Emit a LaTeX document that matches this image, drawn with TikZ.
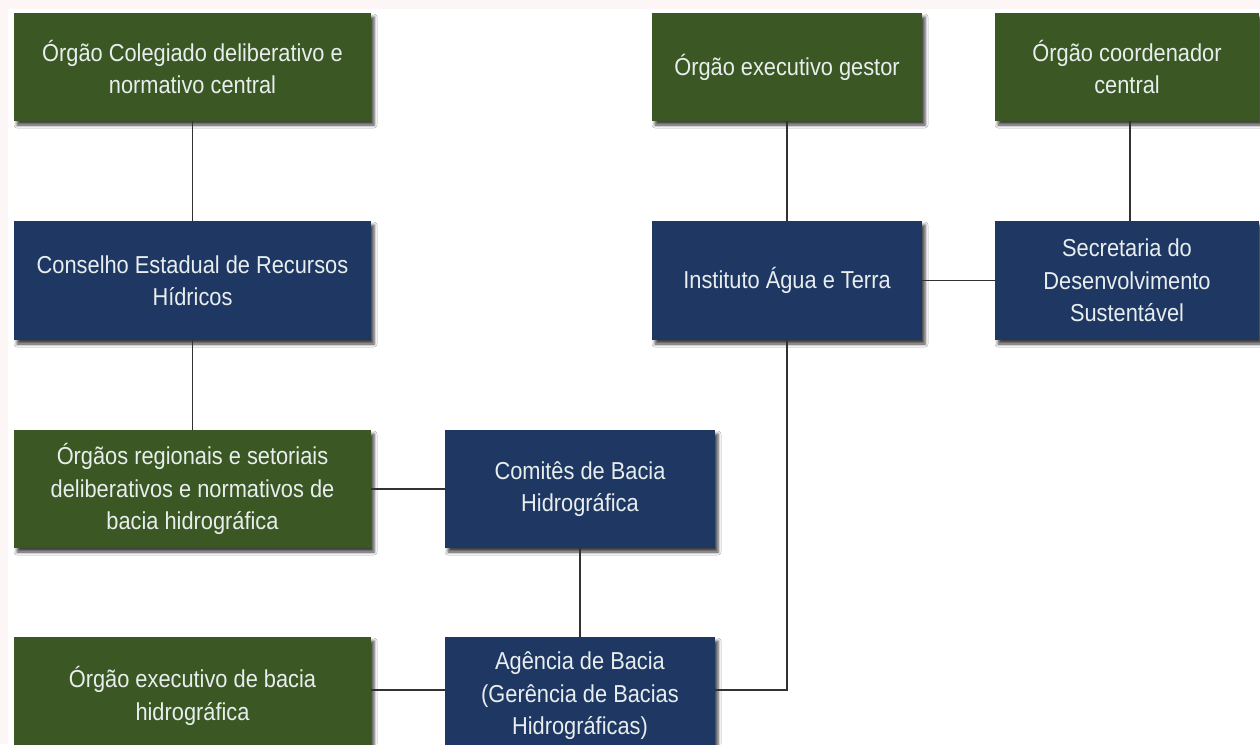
\documentclass[tikz,border=0pt]{standalone}
\usepackage{fontspec}
\newfontfamily\boxfont{Liberation Sans}[FakeStretch=0.89]
\usetikzlibrary{shadows.blur}
\definecolor{boxgreen}{RGB}{59,87,35}
\definecolor{boxblue}{RGB}{31,55,99}
\definecolor{boxtext}{RGB}{232,238,238}
\definecolor{linegray}{RGB}{50,50,50}
\definecolor{edgepink}{RGB}{253,246,246}
\tikzset{
  orgbox/.style={rectangle, inner sep=0pt, align=center, text=boxtext,
    font=\boxfont\fontsize{24.5}{32.5}\selectfont,
    blur shadow={shadow xshift=3pt, shadow yshift=-4pt, shadow blur radius=3pt, shadow opacity=75}},
  greenbox/.style={orgbox, fill=boxgreen},
  bluebox/.style={orgbox, fill=boxblue},
  link/.style={draw=linegray, line width=1.6pt}
}
\begin{document}
\begin{tikzpicture}[x=1pt,y=-1pt]
\useasboundingbox (0,0) rectangle (1260,744);
\clip (0,0) rectangle (1260,744);
\fill[edgepink] (0,0) rectangle (1260,744);
\fill[white] (8,9) rectangle (1260,744);
% nodes
\node[greenbox, minimum width=357pt, minimum height=108pt] (g1) at (192.5,67) {Órgão Colegiado deliberativo e\\normativo central};
\node[bluebox, minimum width=357pt, minimum height=119pt] (b1) at (192.5,280.5) {Conselho Estadual de Recursos\\Hídricos};
\node[greenbox, minimum width=357pt, minimum height=118pt] (g2) at (192.5,489) {Órgãos regionais e setoriais\\deliberativos e normativos de\\bacia hidrográfica};
\node[greenbox, minimum width=357pt, minimum height=118pt] (g3) at (192.5,696) {Órgão executivo de bacia\\hidrográfica};
\node[bluebox, minimum width=270pt, minimum height=118pt] (b2) at (580,489) {Comitês de Bacia\\Hidrográfica};
\node[bluebox, minimum width=270pt, minimum height=118pt] (b3) at (580,696) {Agência de Bacia\\(Gerência de Bacias\\Hidrográficas)};
\node[greenbox, minimum width=270pt, minimum height=108pt] (g4) at (787,67) {Órgão executivo gestor};
\node[bluebox, minimum width=270pt, minimum height=119pt] (b4) at (787,280.5) {Instituto Água e Terra};
\node[greenbox, minimum width=264pt, minimum height=108pt] (g5) at (1127,67) {Órgão coordenador\\central};
\node[bluebox, minimum width=264pt, minimum height=119pt] (b5) at (1127,280.5) {Secretaria do\\Desenvolvimento\\Sustentável};
% connectors
\draw[link] (g1.south) -- (b1.north);
\draw[link] (b1.south) -- (g2.north);
\draw[link] (g2.east) -- (b2.west);
\draw[link] (b2.south) -- (b3.north);
\draw[link] ([yshift=6pt]g3.east) -- ([yshift=6pt]b3.west);
\draw[link] (g4.south) -- (b4.north);
\draw[link] (b4.east) -- (b5.west);
\draw[link] ([xshift=3pt]g5.south) -- ([xshift=3pt]b5.north);
\draw[link] (b4.south) |- ([yshift=6pt]b3.east);
\end{tikzpicture}
\end{document}
